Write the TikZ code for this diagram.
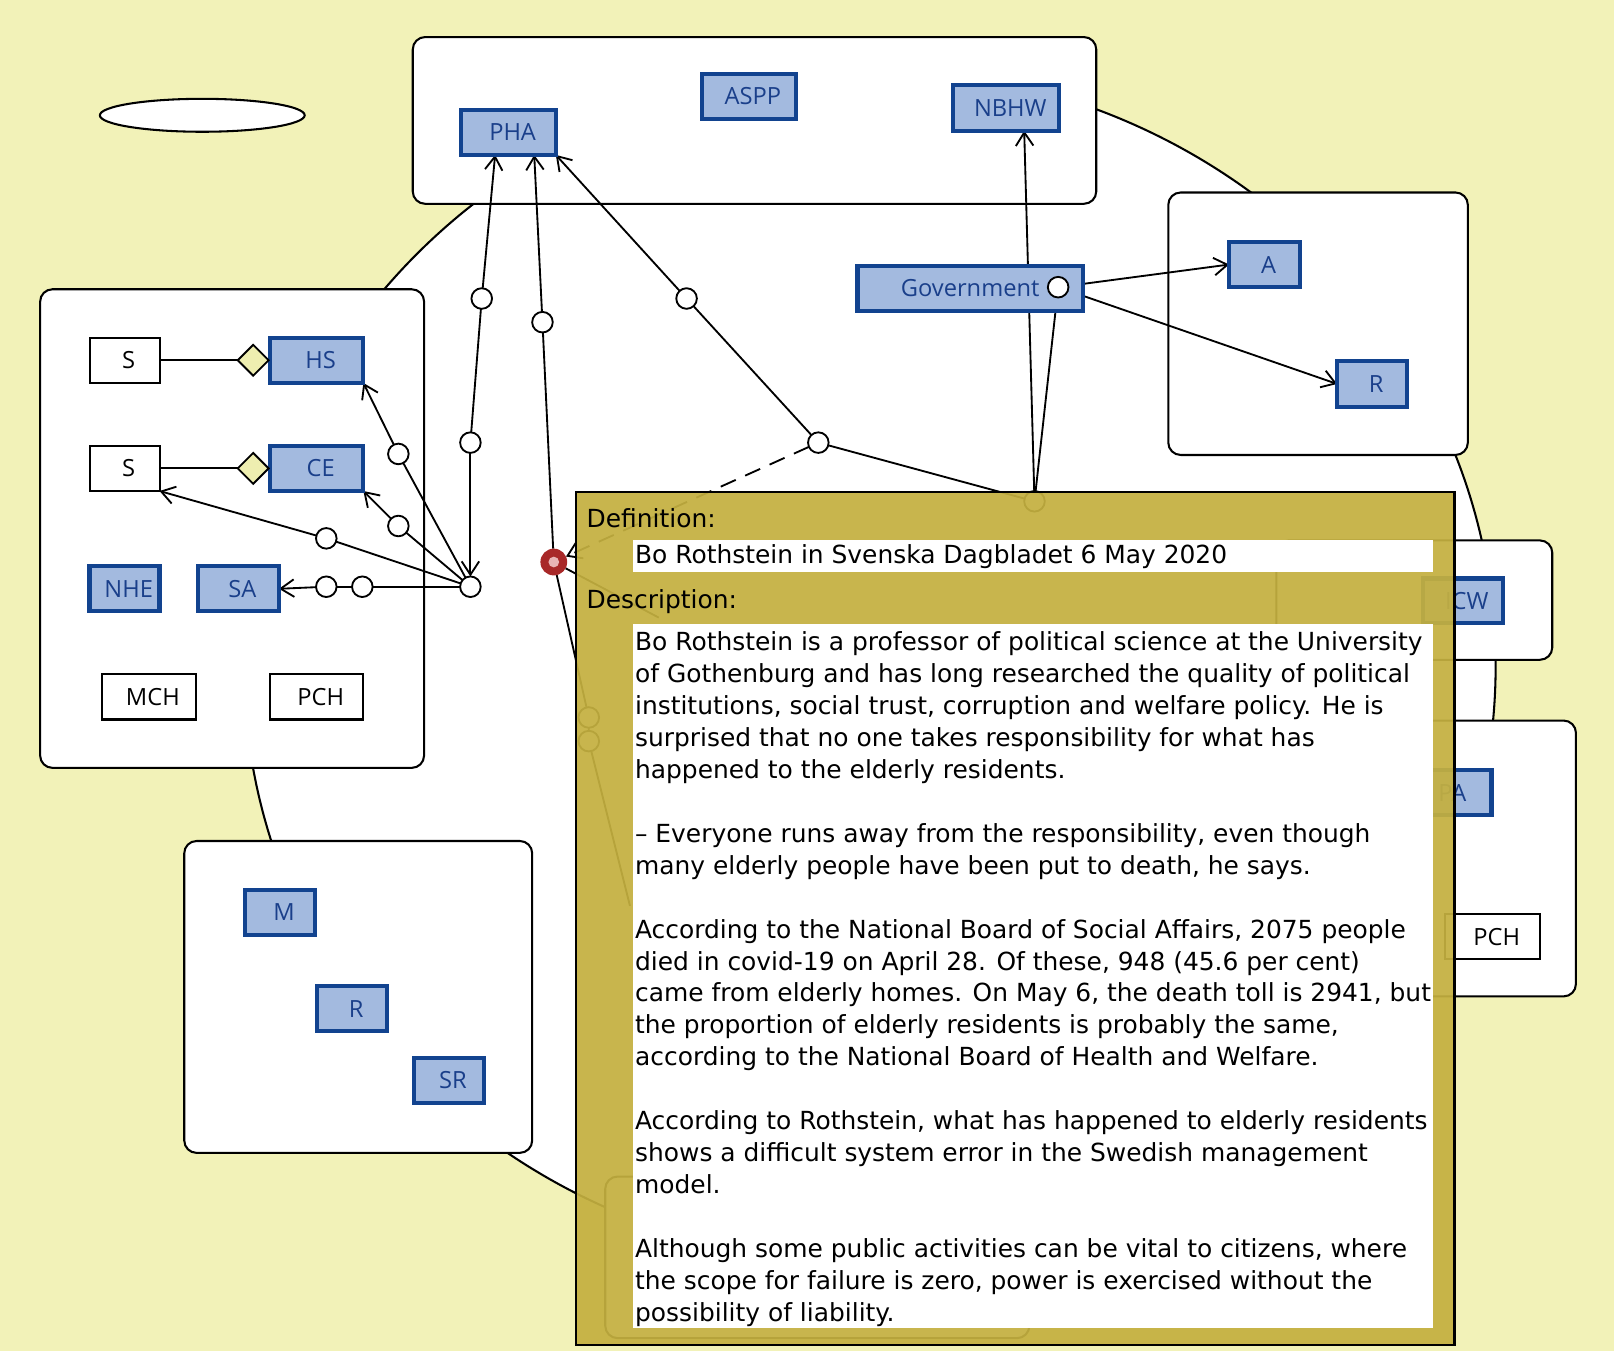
\documentclass[tikz,border=0pt]{standalone}
\usepackage{fontspec}
\newfontfamily\nfont{Open Sans}
\newfontfamily\dfont{DejaVu Sans}
\usetikzlibrary{arrows.meta,shapes.geometric,calc}
\definecolor{bgc}{HTML}{F2F2B8}
\definecolor{bfill}{HTML}{A3BADF}
\definecolor{bline}{HTML}{12438F}
\definecolor{btext}{HTML}{1A3F8A}
\definecolor{goldc}{HTML}{C4B040}
\definecolor{diac}{HTML}{EEEEB0}
\definecolor{rdotc}{HTML}{A82828}
\definecolor{rdinc}{HTML}{E8B4B4}
\pgfdeclarelayer{back}\pgfdeclarelayer{mid}\pgfdeclarelayer{front}
\pgfsetlayers{back,mid,main,front}
\begin{document}
\begin{tikzpicture}[x=0.5pt,y=-0.5pt,
  grp/.style={draw=black, fill=white, line width=1pt, rounded corners=6pt},
  bnode/.style={draw=bline, fill=bfill, line width=2pt, text=btext, font=\nfont\fontsize{11.5pt}{13pt}\selectfont, minimum height=22pt, inner sep=0pt, outer sep=0pt, execute at begin node=\hspace*{4pt}},
  wnode/.style={draw=black, fill=white, line width=1pt, text=black, font=\nfont\fontsize{11.5pt}{13pt}\selectfont, minimum height=22pt, inner sep=0pt, outer sep=0pt, execute at begin node=\hspace*{4pt}},
  sc/.style={circle, draw=black, fill=white, line width=0.9pt, minimum size=10pt, inner sep=0pt, outer sep=0pt},
  dm/.style={diamond, draw=black, fill=diac, line width=0.9pt, minimum width=15pt, minimum height=15pt, inner sep=0pt, outer sep=0pt},
  cn/.style={line width=0.9pt, draw=black},
  tip/.tip={Straight Barb[length=6.5pt,width=8.5pt,line width=0.9pt]},
  arr/.style={cn, -tip},
  dtext/.style={font=\dfont\fontsize{12.1pt}{15.5pt}\selectfont, inner sep=0pt, outer sep=0pt, text=black}
]
\useasboundingbox (0,0) rectangle (1568,1312);

\begin{pgfonlayer}{back}
\fill[bgc] (0,0) rectangle (1568,1312);
\draw[black, fill=white, line width=1pt] (845,647) ellipse [x radius=304pt, y radius=290pt];
\draw[grp] (401,36) rectangle (1065,198);
\draw[grp] (1135,187) rectangle (1426,442);
\draw[grp] (39,281) rectangle (412,746);
\draw[grp] (179,817) rectangle (517,1120);
\draw[grp] (1240,525) rectangle (1508,641);
\draw[grp] (1300,700) rectangle (1531,968);
\draw[grp] (588,1143) rectangle (1000,1300);
\draw[black, fill=white, line width=1pt] (196.5,112) ellipse [x radius=49.75pt, y radius=8pt];
\end{pgfonlayer}

% nodes
\node[bnode, minimum width=46pt] (pha) at (494,128.5) {PHA};
\node[bnode, minimum width=45.5pt] (aspp) at (727.5,93.5) {ASPP};
\node[bnode, minimum width=51.5pt] (nbhw) at (977.5,105) {NBHW};
\node[bnode, minimum width=109.5pt, execute at begin node=\hspace*{-4pt}] (gov) at (942.5,280) {Government};
\node[bnode, minimum width=34.5pt] (a) at (1228.5,257) {A};
\node[bnode, minimum width=34pt] (r1) at (1333,373) {R};
\node[bnode, minimum width=45.5pt] (hs) at (307.5,350) {HS};
\node[bnode, minimum width=45.5pt] (ce) at (307.5,455) {CE};
\node[bnode, minimum width=34pt] (nhe) at (121,572) {NHE};
\node[bnode, minimum width=39.5pt] (sa) at (231.5,572) {SA};
\node[bnode, minimum width=39pt, minimum height=21.5pt] (icw) at (1421,583.5) {ICW};
\node[bnode, minimum width=42pt] (pa) at (1407,770) {PA};
\node[bnode, minimum width=34pt] (m) at (272,886.5) {M};
\node[bnode, minimum width=34pt] (r2) at (342,980) {R};
\node[bnode, minimum width=34pt] (sr) at (436,1049.5) {SR};
\node[wnode, minimum width=34pt] (s1) at (121,350) {S};
\node[wnode, minimum width=34pt] (s2) at (121,455) {S};
\node[wnode, minimum width=45.5pt] (mch) at (144.5,677) {MCH};
\node[wnode, minimum width=45.5pt] (pch1) at (307.5,677) {PCH};
\node[wnode, minimum width=46pt] (pch2) at (1450,910) {PCH};

\node[dm] (d1) at (246,350) {};
\node[dm] (d2) at (246,455) {};

% small circles
\node[sc] (j) at (457,570) {};
\node[sc] (c1) at (317,570) {};
\node[sc] (c2) at (352,570) {};
\node[sc] (c3) at (317,523) {};
\node[sc] (c4) at (387,511) {};
\node[sc] (c5) at (387,441) {};
\node[sc] (c6) at (468,290) {};
\node[sc] (c7) at (457,430) {};
\node[sc] (c8) at (527,313) {};
\node[sc] (c9) at (667,290) {};
\node[sc] (c10) at (795,430) {};
\node[sc] (hc) at (1005,487) {};
\node[sc] (gc) at (1028,279) {};
\node[sc] (f1) at (572,697) {};
\node[sc] (f2) at (572,720) {};
\coordinate (f3) at (612,880);
\coordinate (f4) at (640,600);

% red dot
\node[circle, fill=rdotc, minimum size=13pt, inner sep=0pt, outer sep=0pt] (rd) at (538,546) {};
\fill[rdinc] (rd.center) circle[radius=2.6pt];

\coordinate (phaA) at ([xshift=-6.5pt]pha.south);
\coordinate (phaB) at ([xshift=12.5pt]pha.south);
\coordinate (nbhwA) at ([xshift=8.75pt]nbhw.south);

\begin{pgfonlayer}{mid}
\draw[cn] (s1) -- (d1);
\draw[cn] (s2) -- (d2);
\draw[cn] (j) -- (c2) -- (c1);
\draw[arr] (c1) -- (sa.east);
\draw[cn] (j) -- (c3);
\draw[arr] (c3) -- (s2.south east);
\draw[cn] (j) -- (c4);
\draw[arr] (c4) -- (ce.south east);
\draw[cn] (j) -- (c5);
\draw[arr] (c5) -- (hs.south east);
\draw[arr] (c6) -- (phaA);
\draw[cn] (c6) -- (c7);
\draw[arr] (c7) -- (j);
\draw[cn] (rd) -- (c8);
\draw[arr] (c8) -- (phaB);
\draw[cn] (c10) -- (c9);
\draw[arr] (c9) -- (pha.south east);
\draw[cn] (c10) -- (hc);
\draw[arr, dash pattern=on 8pt off 5pt] (c10) -- (rd);
\draw[arr] (hc) -- (nbhwA);
\draw[cn] (hc) -- (gc);
\draw[arr] (gc) -- (a.west);
\draw[arr] (gc) -- (r1.west);
\draw[cn] (rd) -- (f1) -- (f2) -- (f3);
\draw[cn] (rd) -- (f4);
\end{pgfonlayer}

% overlay
\begin{pgfonlayer}{front}
\fill[goldc, fill opacity=0.93] (560,478) rectangle (1413,1307);
\draw[black, line width=1pt] (560,478) rectangle (1413,1307);
\fill[white] (615,525) rectangle (1392,556);
\fill[white] (615,606) rectangle (1392,1290);
\node[dtext, anchor=west] (deflab) at (570,503) {Definition:};
\node[dtext, anchor=west] (deftext) at (617,541) {Bo Rothstein in Svenska Dagbladet 6 May 2020};
\node[dtext, anchor=west] (desclab) at (570,584) {Description:};
\node[dtext, anchor=north west, align=left] (desc) at (617,614) {Bo Rothstein is a professor of political science at the University\\
of Gothenburg and has long researched the quality of political\\
institutions, social trust, corruption and welfare policy. He is\\
surprised that no one takes responsibility for what has\\
happened to the elderly residents.\\[15.5pt]
– Everyone runs away from the responsibility, even though\\
many elderly people have been put to death, he says.\\[15.5pt]
According to the National Board of Social Affairs, 2075 people\\
died in covid-19 on April 28. Of these, 948 (45.6 per cent)\\
came from elderly homes. On May 6, the death toll is 2941, but\\
the proportion of elderly residents is probably the same,\\
according to the National Board of Health and Welfare.\\[15.5pt]
According to Rothstein, what has happened to elderly residents\\
shows a difficult system error in the Swedish management\\
model.\\[15.5pt]
Although some public activities can be vital to citizens, where\\
the scope for failure is zero, power is exercised without the\\
possibility of liability.};
\end{pgfonlayer}
\end{tikzpicture}
\end{document}
